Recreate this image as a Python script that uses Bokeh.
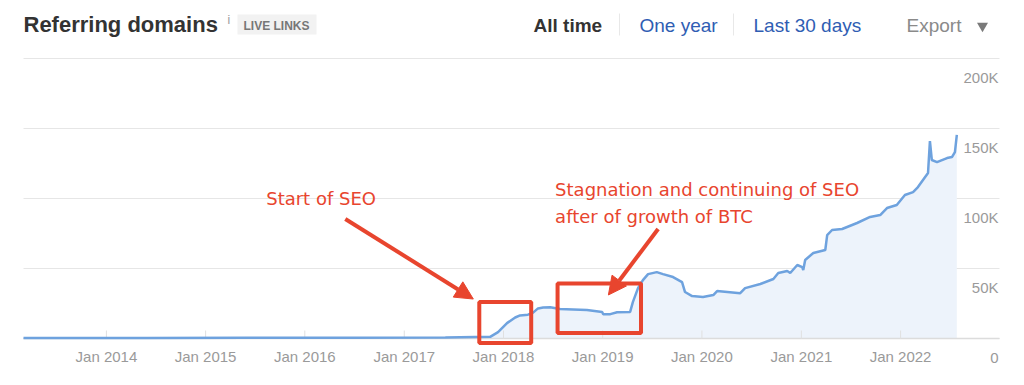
import pandas as pd
from bokeh.plotting import figure
from bokeh.models import Range1d, ColumnDataSource, Arrow, NormalHead
from bokeh.core.properties import value
from bokeh.embed import file_html
from bokeh.resources import INLINE

# ---------------- data ----------------
dates = [
    "2013-03-02", "2014-06-01", "2015-06-01", "2016-06-01", "2017-06-01", "2017-11-13",
    "2017-12-12", "2018-01-14", "2018-02-13", "2018-03-03", "2018-04-01", "2018-04-20",
    "2018-05-08", "2018-05-27", "2018-06-22", "2018-07-28", "2018-09-14", "2018-11-04",
    "2018-12-30", "2019-01-03", "2019-01-29", "2019-02-23", "2019-04-12", "2019-04-22",
    "2019-05-11", "2019-05-29", "2019-06-17", "2019-07-19", "2019-08-11", "2019-09-17",
    "2019-10-20", "2019-10-31", "2019-11-26", "2020-01-05", "2020-02-12", "2020-02-26",
    "2020-05-21", "2020-06-08", "2020-08-03", "2020-09-20", "2020-10-08", "2020-11-10",
    "2020-11-21", "2020-12-17", "2021-01-04", "2021-01-08", "2021-01-15", "2021-02-14",
    "2021-03-30", "2021-04-06", "2021-04-24", "2021-05-31", "2021-07-25", "2021-09-11",
    "2021-10-18", "2021-11-12", "2021-12-18", "2022-01-17", "2022-02-16", "2022-03-06",
    "2022-04-12", "2022-04-19", "2022-04-26", "2022-05-15", "2022-06-21", "2022-07-09",
    "2022-07-20", "2022-07-27",
]
domains = [
    300, 400, 500, 600, 800, 1200,
    4600, 11000, 15000, 16500, 17000, 18500,
    21500, 22200, 22300, 21000, 20800, 20300,
    19000, 17300, 17400, 18800, 19000, 26000,
    36000, 41700, 46000, 47400, 46000, 43900,
    40300, 33200, 30300, 29600, 31000, 33900,
    32400, 36000, 38900, 42500, 46800, 48200,
    46800, 52500, 51000, 48900, 56100, 61100,
    63200, 73900, 77500, 78200, 82500, 86800,
    88200, 93200, 95400, 102500, 104600, 108200,
    118200, 141000, 127500, 126000, 128900, 129600,
    133200, 145400,
]
y_ticks = [0, 50000, 100000, 150000, 200000]
y_tick_labels = ["0", "50K", "100K", "150K", "200K"]
x_tick_years = [2014, 2015, 2016, 2017, 2018, 2019, 2020, 2021, 2022]
x_tick_labels = ["Jan %d" % y for y in x_tick_years]


def ms(s):
    return pd.Timestamp(s).value / 1e6


# ---------------- geometry ----------------
W, H = 1024, 385
CH_L, CH_R = 23, 999          # chart area, px
BASE_Y, TOP_Y = 338, 58        # pixel rows of 0 and of the top tick
X0, X1 = ms("2013-03-02"), ms("2022-12-31")
xs_per_px = (X1 - X0) / (CH_R - CH_L)
ys_per_px = y_ticks[-1] / (BASE_Y - TOP_Y)


def px_x(px):
    return X0 + (px - CH_L) * xs_per_px


def px_y(py):
    return (BASE_Y - py) * ys_per_px


RED = "#e8452e"
GRID = "#e6e6e6"

p = figure(width=W, height=H, output_backend="svg", toolbar_location=None,
           x_axis_location=None, y_axis_location=None,
           x_range=Range1d(px_x(0), px_x(W)), y_range=Range1d(px_y(H), px_y(0)),
           min_border=0, min_border_left=0, min_border_right=0,
           min_border_top=0, min_border_bottom=0)
p.outline_line_color = None
p.xgrid.visible = False
p.ygrid.visible = False
p.background_fill_color = "white"
p.border_fill_color = "white"

# grid lines
p.segment(x0=[X0] * len(y_ticks), x1=[X1] * len(y_ticks), y0=y_ticks, y1=y_ticks,
          line_color=GRID, line_width=1)

# data
xs = [ms(d) for d in dates]
src = ColumnDataSource(dict(x=xs, y=domains))
p.varea(x="x", y1=0, y2="y", source=src, fill_color="#edf3fb")

# baseline + ticks
tick_x = [ms("%d-01-01" % y) for y in x_tick_years]
p.segment(x0=[X0], x1=[X1], y0=[0], y1=[0], line_color="#dcdcdc", line_width=1.5)
p.segment(x0=tick_x, x1=tick_x, y0=[0] * len(tick_x), y1=[8 * ys_per_px] * len(tick_x),
          line_color="#e0e0e0", line_width=1)

p.line(x="x", y="y", source=src, line_color="#6ea2de", line_width=2.5)

# tick labels
p.text(x=tick_x, y=[-18 * ys_per_px] * len(tick_x), text=x_tick_labels,
       text_font=value("Liberation Sans"), text_font_size="15px", text_color="#9a9a9a",
       text_align="center", text_baseline="middle")
p.text(x=[px_x(998)] * len(y_ticks), y=[t - 19 * ys_per_px for t in y_ticks],
       text=y_tick_labels, text_font=value("Liberation Sans"), text_font_size="15px",
       text_color="#9a9a9a", text_align="right", text_baseline="middle")


# header
def hdr(x, y, text, size, color, bold=False, font="Liberation Sans", align="left"):
    p.text(x=[px_x(x)], y=[px_y(y)], text=[text], text_font=value(font),
           text_font_size=size, text_color=color,
           text_font_style="bold" if bold else "normal",
           text_align=align, text_baseline="middle")


p.quad(left=[px_x(237)], right=[px_x(316)], top=[px_y(14)], bottom=[px_y(34)],
       fill_color="#f2f2f2", line_color=None)
hdr(23, 23.5, "Referring domains", "22px", "#333333", bold=True)
hdr(227, 19, "i", "12px", "#999999")
hdr(243, 25.5, "LIVE LINKS", "12px", "#777777", bold=True)
hdr(533, 25, "All time", "19px", "#333333", bold=True)
p.segment(x0=[px_x(619), px_x(733)], x1=[px_x(619), px_x(733)],
          y0=[px_y(13)] * 2, y1=[px_y(35)] * 2, line_color="#e8e8e8", line_width=1)
hdr(639, 25, "One year", "19px", "#2f5db3")
hdr(753, 25, "Last 30 days", "19px", "#2f5db3")
hdr(906, 25, "Export", "19px", "#8a8a8a")
p.scatter(x=[px_x(982)], y=[px_y(25.5)], marker="inverted_triangle", size=11,
          fill_color="#7a7a7a", line_color=None)

# annotations
p.text(x=[ms("2015-08-12"), ms("2018-07-10"), ms("2018-07-10")],
       y=[100200, 106400, 87500],
       text=["Start of SEO", "Stagnation and continuing of SEO", "after of growth of BTC"],
       text_font=value("DejaVu Sans"), text_font_size="18px", text_color=RED,
       text_baseline="middle")

for (d0, v0, d1, v1) in [("2016-05-29", 85400, "2017-09-12", 28200),
                         ("2019-07-24", 78200, "2019-01-22", 31100)]:
    p.add_layout(Arrow(end=NormalHead(size=18, fill_color=RED, line_color=RED),
                       x_start=ms(d0), y_start=v0, x_end=ms(d1), y_end=v1,
                       line_color=RED, line_width=4))

p.quad(left=[ms("2017-10-04"), ms("2018-07-19")], right=[ms("2018-04-13"), ms("2019-05-22")],
       bottom=[-3200, 3900], top=[26100, 39300],
       fill_color=None, line_color=RED, line_width=4)

open("out.html", "w").write(file_html(p, INLINE))
